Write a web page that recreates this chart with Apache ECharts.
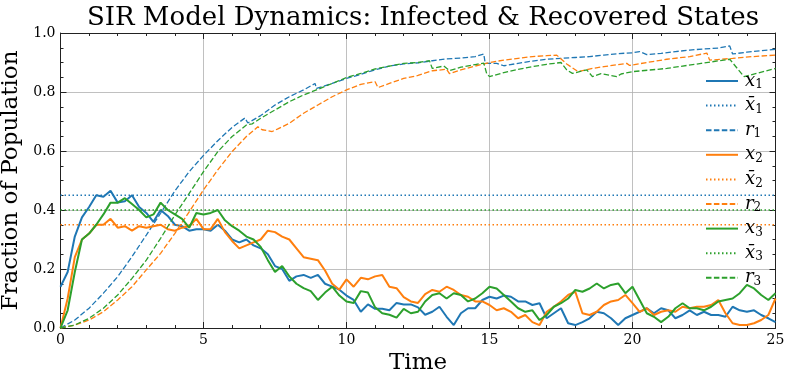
<!DOCTYPE html>
<html>
<head>
<meta charset="utf-8">
<script src="https://cdn.jsdelivr.net/npm/echarts@6/dist/echarts.min.js"></script>
<style>
  html, body { margin: 0; padding: 0; background: #fff; }
  #chart { width: 788px; height: 380px; }
</style>
</head>
<body>
<div id="chart"></div>
<script>
// infected fractions, read every 0.25 time units from t = 0 to t = 25
var step = 0.25;
var x1 = [
  0.14, 0.19, 0.31, 0.375,  0.41, 0.45, 0.445, 0.465,  0.425, 0.43, 0.45, 0.41,
  0.39, 0.36, 0.40, 0.38,  0.35, 0.345, 0.33, 0.335,  0.335, 0.33, 0.35, 0.33,
  0.30, 0.29, 0.30, 0.28,  0.27, 0.25, 0.21, 0.20,  0.16, 0.175, 0.18, 0.17,
  0.18, 0.15, 0.14, 0.13,  0.11, 0.095, 0.055, 0.08,  0.065, 0.065, 0.06, 0.085,
  0.08, 0.08, 0.07, 0.045,  0.055, 0.072, 0.038, 0.01,  0.05, 0.067, 0.067, 0.095,
  0.106, 0.10, 0.11, 0.106,  0.09, 0.09, 0.078, 0.084,  0.033, 0.05, 0.067, 0.016,
  0.01, 0.02, 0.033, 0.055,  0.05, 0.033, 0.01, 0.033,  0.044, 0.055, 0.067, 0.05,
  0.067, 0.06, 0.033, 0.044,  0.06, 0.044, 0.055, 0.044,  0.044, 0.038, 0.072, 0.06,
  0.055, 0.06, 0.044, 0.033,  0.02
];
var x2 = [
  0.0, 0.10, 0.24, 0.30,  0.32, 0.35, 0.35, 0.37,  0.34, 0.345, 0.33, 0.345,
  0.34, 0.345, 0.35, 0.335,  0.33, 0.34, 0.345, 0.37,  0.335, 0.335, 0.37, 0.325,
  0.295, 0.27, 0.28, 0.29,  0.30, 0.33, 0.325, 0.31,  0.30, 0.27, 0.24, 0.235,
  0.23, 0.195, 0.15, 0.13,  0.165, 0.14, 0.17, 0.165,  0.175, 0.18, 0.14, 0.135,
  0.105, 0.09, 0.085, 0.115,  0.129, 0.123, 0.14, 0.129,  0.112, 0.106, 0.09, 0.09,
  0.078, 0.06, 0.067, 0.055,  0.033, 0.044, 0.02, 0.01,  0.055, 0.072, 0.09, 0.112,
  0.123, 0.05, 0.044, 0.055,  0.078, 0.09, 0.095, 0.112,  0.084, 0.055, 0.067, 0.044,
  0.055, 0.06, 0.055, 0.072,  0.067, 0.072, 0.072, 0.078,  0.095, 0.05, 0.016, 0.01,
  0.01, 0.016, 0.027, 0.044,  0.10
];
var x3 = [
  0.0, 0.06, 0.19, 0.30,  0.32, 0.35, 0.385, 0.425,  0.425, 0.44, 0.42, 0.40,
  0.375, 0.385, 0.425, 0.40,  0.385, 0.37, 0.34, 0.39,  0.385, 0.39, 0.40, 0.365,
  0.345, 0.33, 0.31, 0.30,  0.275, 0.23, 0.19, 0.21,  0.175, 0.15, 0.135, 0.125,
  0.095, 0.12, 0.14, 0.11,  0.09, 0.085, 0.125, 0.12,  0.07, 0.05, 0.045, 0.035,
  0.065, 0.05, 0.055, 0.09,  0.112, 0.118, 0.10, 0.118,  0.112, 0.09, 0.10, 0.118,
  0.14, 0.134, 0.112, 0.09,  0.067, 0.055, 0.06, 0.027,  0.044, 0.072, 0.084, 0.10,
  0.129, 0.123, 0.134, 0.151,  0.134, 0.146, 0.151, 0.118,  0.14, 0.095, 0.05, 0.038,
  0.02, 0.038, 0.067, 0.084,  0.067, 0.067, 0.06, 0.072,  0.09, 0.095, 0.10, 0.118,
  0.146, 0.134, 0.112, 0.095,  0.118
];

// long-run means of the infected fractions
var x1Mean = 0.45;
var x2Mean = 0.35;
var x3Mean = 0.40;

// recovered fractions as [time, value]
var r1 = [
  [0, 0], [0.5, 0.027], [1, 0.067], [1.5, 0.118], [2, 0.174], [2.5, 0.242], [3, 0.315],
  [3.5, 0.389], [4, 0.465], [4.5, 0.53], [5, 0.585], [5.5, 0.635], [6, 0.68], [6.45, 0.712],
  [6.55, 0.695], [7, 0.72], [7.5, 0.756], [8, 0.784], [8.5, 0.807], [8.9, 0.829], [8.95, 0.812],
  [9.5, 0.829], [10, 0.846], [10.5, 0.86], [11, 0.875], [11.5, 0.888], [12, 0.895], [12.5, 0.899],
  [13, 0.906], [13.5, 0.912], [14, 0.915], [14.5, 0.92], [14.8, 0.929], [14.85, 0.897],
  [15.25, 0.897], [15.5, 0.889], [16, 0.897], [16.5, 0.905], [17, 0.911], [17.5, 0.914],
  [18, 0.917], [18.5, 0.92], [19, 0.925], [19.5, 0.93], [20, 0.933], [20.25, 0.937],
  [20.5, 0.927], [21, 0.931], [21.5, 0.937], [22, 0.942], [22.5, 0.946], [23, 0.949],
  [23.4, 0.956], [23.5, 0.929], [24, 0.935], [24.5, 0.94], [25, 0.945]
];
var r2 = [
  [0, 0], [0.5, 0.01], [1, 0.027], [1.5, 0.055], [2, 0.095], [2.5, 0.14], [3, 0.197],
  [3.5, 0.253], [4, 0.321], [4.5, 0.394], [5, 0.468], [5.5, 0.536], [6, 0.598], [6.5, 0.649],
  [6.9, 0.682], [7.05, 0.672], [7.4, 0.666], [7.6, 0.675], [8, 0.694], [8.5, 0.728],
  [9, 0.756], [9.5, 0.784], [10, 0.807], [10.5, 0.826], [11, 0.835], [11.1, 0.815],
  [11.5, 0.829], [12, 0.846], [12.5, 0.856], [13, 0.872], [13.5, 0.877], [13.6, 0.862],
  [14, 0.875], [14.5, 0.888], [15, 0.9], [15.5, 0.908], [16, 0.914], [16.5, 0.92],
  [17, 0.923], [17.35, 0.925], [17.7, 0.895], [18.1, 0.869], [18.6, 0.88], [19, 0.886],
  [19.8, 0.897], [19.9, 0.89], [20.5, 0.9], [21.2, 0.911], [22, 0.92], [22.6, 0.932],
  [22.7, 0.908], [23.5, 0.914], [24.2, 0.92], [25, 0.925]
];
var r3 = [
  [0, 0], [0.5, 0.01], [1, 0.033], [1.5, 0.067], [2, 0.112], [2.5, 0.168], [3, 0.23],
  [3.5, 0.304], [4, 0.383], [4.5, 0.456], [5, 0.53], [5.5, 0.598], [6, 0.649], [6.5, 0.688],
  [6.7, 0.692], [7, 0.711], [7.5, 0.739], [8, 0.767], [8.5, 0.79], [9, 0.809], [9.5, 0.829],
  [10, 0.849], [10.5, 0.863], [11, 0.878], [11.5, 0.888], [12, 0.897], [12.5, 0.9],
  [12.9, 0.906], [13.0, 0.88], [13.4, 0.888], [13.6, 0.873], [14, 0.884], [14.5, 0.893],
  [14.8, 0.898], [14.9, 0.863], [15.0, 0.852], [15.5, 0.866], [16, 0.877], [16.5, 0.886],
  [17, 0.894], [17.5, 0.9], [17.7, 0.875], [17.9, 0.863], [18.4, 0.875], [18.6, 0.852],
  [18.9, 0.862], [19.45, 0.852], [19.6, 0.861], [20, 0.869], [21.2, 0.88], [22.4, 0.897],
  [23.4, 0.911], [23.9, 0.852], [25, 0.88]
];

var tMin = 0, tMax = 25;
var names = ['x1', 'xbar1', 'r1', 'x2', 'xbar2', 'r2', 'x3', 'xbar3', 'r3'];
var colors = ['#1f77b4', '#ff7f0e', '#2ca02c'];

function onGrid(vals) {
  var out = [];
  for (var i = 0; i < vals.length; i++) out.push([i * step, vals[i]]);
  return out;
}

var serif = 'DejaVu Serif';
var infected = [x1, x2, x3];
var means = [x1Mean, x2Mean, x3Mean];
var recovered = [r1, r2, r3];

var series = [];
for (var k = 0; k < 3; k++) {
  series.push({
    name: names[k * 3], type: 'line', data: onGrid(infected[k]), symbol: 'none',
    lineStyle: { color: colors[k], width: 2 }, itemStyle: { color: colors[k] }
  });
  series.push({
    name: names[k * 3 + 1], type: 'line', data: [[tMin, means[k]], [tMax, means[k]]], symbol: 'none',
    lineStyle: { color: colors[k], width: 1.3, type: [1.5, 2.5] }, itemStyle: { color: colors[k] }
  });
  series.push({
    name: names[k * 3 + 2], type: 'line', data: recovered[k], symbol: 'none',
    lineStyle: { color: colors[k], width: 1.3, type: [5.5, 2.4] }, itemStyle: { color: colors[k] }
  });
}

var frameTick = { show: true, inside: true, length: 6, lineStyle: { color: '#222', width: 1 } };
var frameMinor = { show: true, splitNumber: 5, length: 3, lineStyle: { color: '#222', width: 1 } };

var option = {
  animation: false,
  backgroundColor: '#fff',
  title: {
    text: 'SIR Model Dynamics: Infected & Recovered States',
    left: 418, top: 0, textAlign: 'center',
    textStyle: { fontFamily: serif, fontSize: 26, fontWeight: 'normal', color: '#000' }
  },
  legend: {
    orient: 'vertical', left: 700, top: 67,
    itemWidth: 32, itemHeight: 14, itemGap: 5.6,
    itemStyle: { opacity: 0 },
    data: names,
    formatter: function (n) {
      var bar = n.indexOf('bar') >= 0;
      var letter = n.charAt(0) === 'r' ? 'r' : (bar ? 'x\u0304' : 'x');
      return '{i|' + letter + '}{s|' + n.charAt(n.length - 1) + '}';
    },
    textStyle: {
      padding: [0, 0, 0, 2],
      rich: {
        i: { fontFamily: serif, fontStyle: 'italic', fontSize: 18, color: '#000', lineHeight: 20 },
        s: { fontFamily: serif, fontSize: 12, color: '#000', verticalAlign: 'bottom', lineHeight: 14 }
      }
    }
  },
  grid: { left: 60.5, right: 12.5, top: 33, bottom: 52, containLabel: false, outerBoundsMode: 'none' },
  xAxis: [{
    type: 'value', min: tMin, max: tMax, interval: 5,
    name: 'Time', nameLocation: 'middle', nameGap: 22,
    nameTextStyle: { fontFamily: serif, fontSize: 23, color: '#000' },
    axisLine: { show: true, onZero: false, lineStyle: { color: '#222', width: 1 } },
    axisTick: frameTick, minorTick: frameMinor,
    axisLabel: { fontFamily: serif, fontSize: 14, color: '#000', margin: 5 },
    splitLine: { show: true, lineStyle: { color: '#b0b0b0', width: 0.8 } }
  }, {
    type: 'value', min: tMin, max: tMax, interval: 5, position: 'top',
    axisLine: { show: true, onZero: false, lineStyle: { color: '#222', width: 1 } },
    axisTick: frameTick, minorTick: frameMinor,
    axisLabel: { show: false }, splitLine: { show: false }
  }],
  yAxis: [{
    type: 'value', min: 0, max: 1, interval: 0.2,
    name: 'Fraction of Population', nameLocation: 'middle', nameGap: 35,
    nameTextStyle: { fontFamily: serif, fontSize: 23, color: '#000' },
    axisLine: { show: true, onZero: false, lineStyle: { color: '#222', width: 1 } },
    axisTick: frameTick, minorTick: { show: true, splitNumber: 4, length: 3, lineStyle: { color: '#222', width: 1 } },
    axisLabel: { fontFamily: serif, fontSize: 14, color: '#000', margin: 5,
      formatter: function (v) { return v.toFixed(1); } },
    splitLine: { show: true, lineStyle: { color: '#b0b0b0', width: 0.8 } }
  }, {
    type: 'value', min: 0, max: 1, interval: 0.2, position: 'right',
    axisLine: { show: true, onZero: false, lineStyle: { color: '#222', width: 1 } },
    axisTick: frameTick, minorTick: { show: true, splitNumber: 4, length: 3, lineStyle: { color: '#222', width: 1 } },
    axisLabel: { show: false }, splitLine: { show: false }
  }],
  series: series
};

var chart = echarts.init(document.getElementById('chart'));
chart.setOption(option);
</script>
</body>
</html>
